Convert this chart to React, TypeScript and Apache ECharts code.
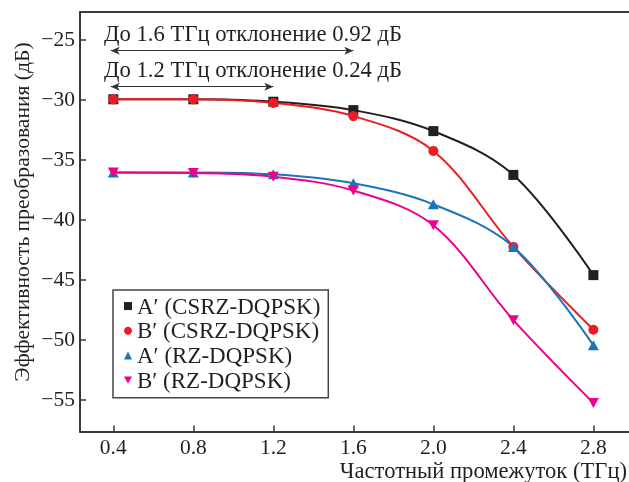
import React, { useEffect, useRef } from 'react';
import * as echarts from 'echarts';

const freqs = [0.4, 0.8, 1.2, 1.6, 2.0, 2.4, 2.8];
const aCsrz = [-30.0, -30.0, -30.2, -30.9, -32.65, -36.3, -44.65];
const bCsrz = [-30.0, -30.0, -30.3, -31.4, -34.3, -42.3, -49.2];
const aRz = [-36.1, -36.1, -36.25, -37.0, -38.75, -42.3, -50.5];
const bRz = [-36.1, -36.15, -36.45, -37.6, -40.5, -48.4, -55.3];
const seriesNames = ['A′ (CSRZ-DQPSK)', 'B′ (CSRZ-DQPSK)', 'A′ (RZ-DQPSK)', 'B′ (RZ-DQPSK)'];
const xTicks = [0.4, 0.8, 1.2, 1.6, 2.0, 2.4, 2.8];
const yTicks = [-25, -30, -35, -40, -45, -50, -55];
const annotationTexts = ['До 1.6 ТГц отклонение 0.92 дБ', 'До 1.2 ТГц отклонение 0.24 дБ'];
const arrowFrom = [0.387, 0.387];
const arrowTo = [1.6, 1.2];
const arrowY = [-25.95, -28.95];
const xName = 'Частотный промежуток (ТГц)';
const yName = 'Эффективность преобразования (дБ)';

const FONT = "'Liberation Serif', 'Times New Roman', serif";
const TXT = '#231f20';
const AX = '#3a3a3a';

export default function App() {
  const ref = useRef<HTMLDivElement>(null);
  useEffect(() => {
    if (!ref.current) return;
    const chart = echarts.init(ref.current, null, { renderer: 'svg' });
    const xMin = 0.2335, xMax = 2.978, yMin = -57.68, yMax = -22.725;
    const mk = (vals: number[]) => freqs.map((f, i) => [f, vals[i]]);
    const colors = ['#231f20', '#ed1c24', '#1b75bb', '#ec008c'];
    const downTri = 'path://M0,0 L10,0 L5,9 Z';
    chart.setOption({
      animation: false,
      textStyle: { fontFamily: FONT },
      grid: { left: 80, top: 12, right: 0, bottom: 50.5 },
      xAxis: [
        {
          type: 'value', min: xMin, max: xMax,
          axisLine: { show: true, lineStyle: { color: AX, width: 2 } },
          axisTick: { show: true, inside: true, length: 6, customValues: xTicks, lineStyle: { color: AX, width: 1.5 } },
          axisLabel: { customValues: xTicks, formatter: (v: number) => v.toFixed(1), fontSize: 21.5, color: TXT, fontFamily: FONT, margin: 4 },
          splitLine: { show: false },
        },
        {
          type: 'value', position: 'top', min: xMin, max: xMax,
          axisLine: { show: true, lineStyle: { color: AX, width: 2 } },
          axisTick: { show: false }, axisLabel: { show: false }, splitLine: { show: false },
        },
      ],
      yAxis: {
        type: 'value', min: yMin, max: yMax,
        axisLine: { show: true, lineStyle: { color: AX, width: 2 } },
        axisTick: { show: true, inside: true, length: 6, customValues: yTicks, lineStyle: { color: AX, width: 1.5 } },
        axisLabel: { customValues: yTicks, formatter: (v: number) => '−' + Math.abs(v), fontSize: 21.5, color: TXT, fontFamily: FONT, margin: 5 },
        splitLine: { show: false },
      },
      legend: {
        orient: 'vertical', left: 113, top: 290,
        padding: [3.7, 8, 5.2, 11],
        borderColor: '#444', borderWidth: 1.5,
        itemWidth: 8, itemHeight: 8, itemGap: 0,
        textStyle: { fontSize: 23, lineHeight: 24.7, color: TXT, fontFamily: FONT },
        selectedMode: false,
        data: [
          { name: seriesNames[0], icon: 'rect' },
          { name: seriesNames[1], icon: 'circle' },
          { name: seriesNames[2], icon: 'triangle' },
          { name: seriesNames[3], icon: downTri },
        ],
      },
      series: [
        { name: seriesNames[0], type: 'line', data: mk(aCsrz), smooth: 0.35, symbol: 'rect', symbolSize: 10, color: colors[0], lineStyle: { width: 2 } },
        { name: seriesNames[1], type: 'line', data: mk(bCsrz), smooth: 0.35, symbol: 'circle', symbolSize: 10, color: colors[1], lineStyle: { width: 2 } },
        { name: seriesNames[2], type: 'line', data: mk(aRz), smooth: 0.35, symbol: 'triangle', symbolSize: [11, 10], color: colors[2], lineStyle: { width: 2 } },
        { name: seriesNames[3], type: 'line', data: mk(bRz), smooth: 0.35, symbol: downTri, symbolSize: [11, 10], color: colors[3], lineStyle: { width: 2 } },
        {
          name: 'annot', type: 'line', data: [], silent: true,
          markLine: {
            silent: true, symbol: ['arrow', 'arrow'], symbolSize: [6, 9],
            lineStyle: { color: '#333', width: 1.2, type: 'solid' },
            label: { show: false },
            emphasis: { disabled: true },
            data: arrowFrom.map((f, i) => [{ coord: [f, arrowY[i]] }, { coord: [arrowTo[i], arrowY[i]] }]),
          },
        },
      ],
      graphic: [
        ...annotationTexts.map((t, i) => ({
          type: 'text', x: 104, y: i === 0 ? 33 : 69.5,
          style: { text: t, fontSize: 22.7, fontFamily: FONT, fill: TXT, align: 'left', verticalAlign: 'middle' },
        })),
        {
          type: 'text', x: 22, y: 212, rotation: Math.PI / 2,
          style: { text: yName, fontSize: 21.6, fontFamily: FONT, fill: TXT, align: 'center', verticalAlign: 'middle' },
        },
        {
          type: 'text', x: 627, y: 470,
          style: { text: xName, fontSize: 22.6, fontFamily: FONT, fill: TXT, align: 'right', verticalAlign: 'middle' },
        },
      ],
    });
    return () => chart.dispose();
  }, []);
  return <div ref={ref} style={{ position: 'fixed', left: 0, top: 0, width: 629, height: 482 }} />;
}
